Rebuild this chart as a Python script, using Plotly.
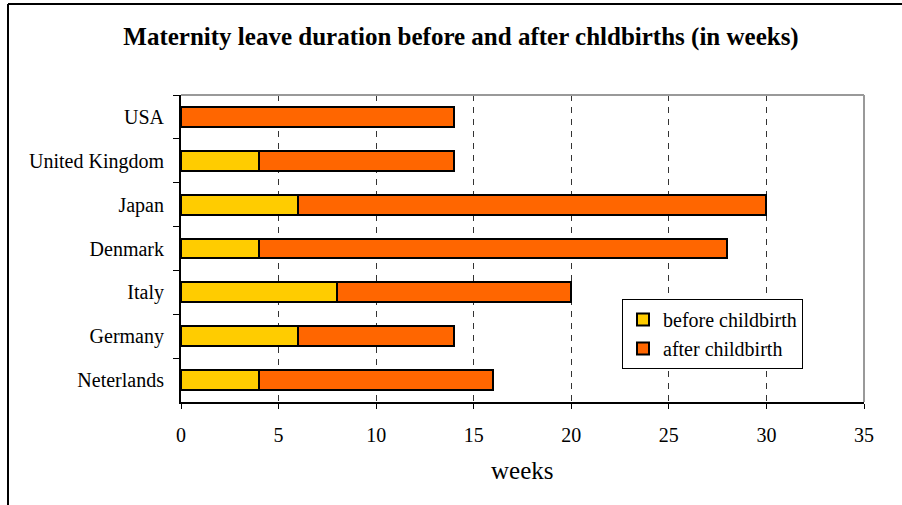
import plotly.graph_objects as go

countries = ["USA", "United Kingdom", "Japan", "Denmark", "Italy", "Germany", "Neterlands"]
before = [0, 4, 6, 4, 8, 6, 4]
after = [14, 10, 24, 24, 12, 8, 12]
x_ticks = [0, 5, 10, 15, 20, 25, 30, 35]

FONT = "Liberation Serif, Times New Roman, serif"

fig = go.Figure()
fig.add_trace(go.Bar(
    y=countries, x=before, orientation="h", name="before childbirth",
    marker=dict(color="#FFCC00", line=dict(color="black", width=2)),
    legendgroup="a",
))
fig.add_trace(go.Bar(
    y=countries, x=after, orientation="h", name="after childbirth",
    marker=dict(color="#FF6600", line=dict(color="black", width=2)),
    legendgroup="b",
))

fig.update_layout(
    width=902, height=505,
    margin=dict(l=181, r=38, t=95, b=103),
    paper_bgcolor="white", plot_bgcolor="white",
    barmode="stack", bargap=0.55,
    font=dict(family=FONT, size=20, color="black"),
    title=dict(text="<b>Maternity leave duration before and after chldbirths (in weeks)</b>",
               x=461 / 902, xanchor="center", y=1 - 36 / 505, yanchor="middle",
               font=dict(family=FONT, size=25, color="black")),
    legend=dict(x=(622 - 181) / 683, xanchor="left", y=(402 - 299) / 307, yanchor="top",
                bordercolor="black", borderwidth=1, bgcolor="white",
                font=dict(family=FONT, size=20, color="black"),
                tracegroupgap=3, traceorder="normal"),
    showlegend=True,
)

fig.update_xaxes(
    range=[0, 35], tickvals=x_ticks, ticktext=[str(v) for v in x_ticks],
    showline=True, linecolor="black", linewidth=2,
    ticks="outside", ticklen=5, tickcolor="black", tickwidth=1,
    ticklabelstandoff=9,
    showgrid=True, gridcolor="#333333", gridwidth=1, griddash="6px,6px",
    zeroline=False, fixedrange=True,
)
fig.update_yaxes(
    categoryorder="array", categoryarray=countries, autorange="reversed",
    showline=True, linecolor="black", linewidth=2,
    ticks="outside", ticklen=6, tickcolor="black", tickson="boundaries",
    ticklabelstandoff=11,
    showgrid=False, zeroline=False, fixedrange=True,
)

# gray plot-area frame on top and right
fig.add_shape(type="line", xref="paper", yref="paper", x0=0, x1=1, y0=1, y1=1,
              line=dict(color="#999999", width=2))
fig.add_shape(type="line", xref="paper", yref="paper", x0=1, x1=1, y0=0, y1=1,
              line=dict(color="#999999", width=2))

# outer frame: top and left lines
fig.add_shape(type="line", xref="paper", yref="paper",
              x0=(8 - 181) / 683, x1=(902 - 181) / 683, y0=(402 - 4) / 307, y1=(402 - 4) / 307,
              line=dict(color="black", width=2))
fig.add_shape(type="line", xref="paper", yref="paper",
              x0=(8 - 181) / 683, x1=(8 - 181) / 683, y0=(402 - 4) / 307, y1=(402 - 510) / 307,
              line=dict(color="black", width=2))

fig.add_annotation(text="weeks", xref="paper", yref="paper",
                   x=(522 - 181) / 683, y=(402 - 470) / 307, xanchor="center", yanchor="middle",
                   showarrow=False, font=dict(family=FONT, size=25, color="black"))

fig.write_html("out.html", config={"displayModeBar": False},
               post_script="document.body.style.margin='0';")
